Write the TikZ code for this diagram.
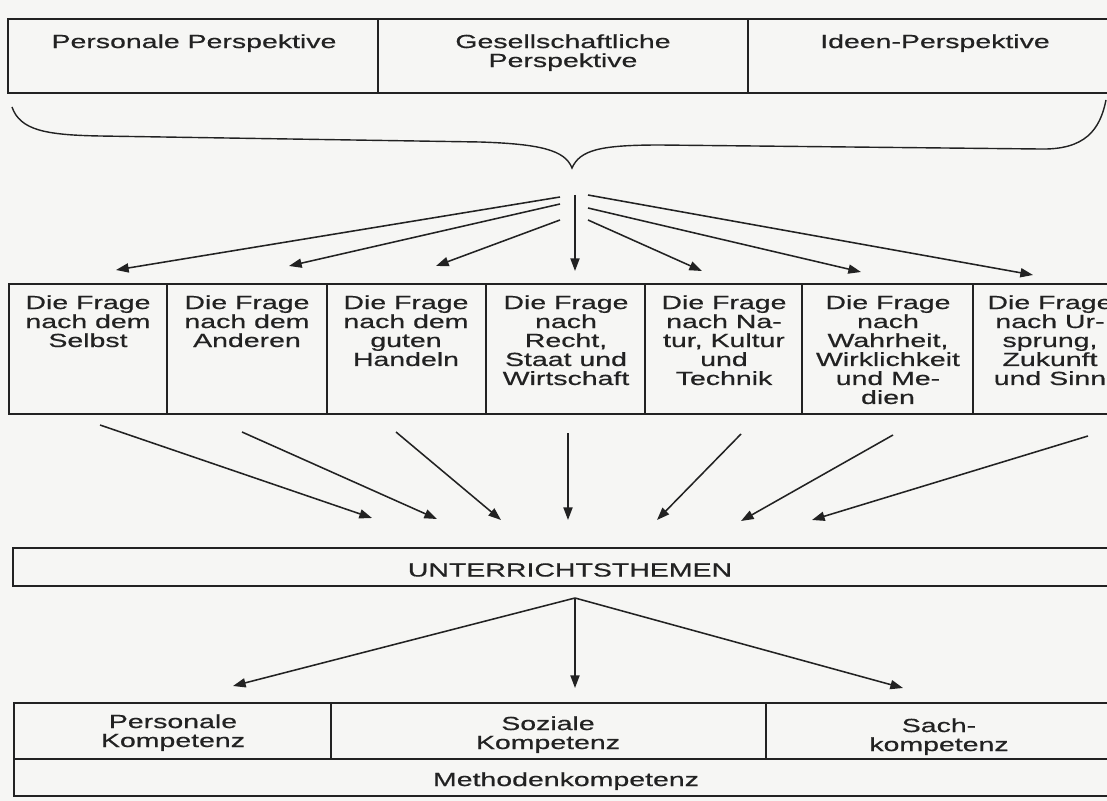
\documentclass[tikz,border=0pt]{standalone}
\usepackage{fontspec}
\setmainfont{Liberation Sans}
\newfontfamily\breit[FakeStretch=1.5,FakeBold=0.6]{Liberation Sans}
\usetikzlibrary{arrows.meta}
\definecolor{tinte}{HTML}{222222}
\definecolor{papier}{HTML}{F6F6F4}
\tikzset{
  rahmen/.style={draw=tinte, line width=1pt},
  pfeil/.style={draw=tinte, line width=1.1pt, -{Triangle[length=9pt,width=6.5pt]}},
  txt/.style={align=center, inner sep=0pt, anchor=north, text=tinte,
    font=\breit\fontsize{13.5}{13.5}\selectfont},
}
\begin{document}
\begin{tikzpicture}[x=0.025cm,y=-0.025cm]
\useasboundingbox (0,0) rectangle (1107,801);
\fill[papier] (0,0) rectangle (1107,801);
\clip (0,0) rectangle (1107,801);
% Perspektiven
\draw[rahmen] (8,19) rectangle (1115,93); \draw[rahmen] (378,19)--(378,93); \draw[rahmen] (748,19)--(748,93);
\node[txt] (pers) at (194,34) {Personale Perspektive};
\node[txt] (ges) at (563,34) {Gesellschaftliche\\Perspektive};
\node[txt] (ideen) at (935,34) {Ideen-Perspektive};
% Klammer
\draw[rahmen] (12,107) .. controls (20,130) and (45,135) .. (100,136) -- (480,142)
  .. controls (540,144) and (565,150) .. (572,168) .. controls (580,150) and (600,145) .. (660,145)
  -- (1040,149) .. controls (1085,150) and (1100,130) .. (1106,100);
% Fragen
\draw[rahmen] (9,284) rectangle (1130,414);
\foreach \xd in {167,327,486,645,802,973} \draw[rahmen] (\xd,284)--(\xd,414);
\node[txt] (f1) at (88,295) {Die Frage\\nach dem\\Selbst};
\node[txt] (f2) at (247,295) {Die Frage\\nach dem\\Anderen};
\node[txt] (f3) at (406,295) {Die Frage\\nach dem\\guten\\Handeln};
\node[txt] (f4) at (566,295) {Die Frage\\nach\\Recht,\\Staat und\\Wirtschaft};
\node[txt] (f5) at (724,295) {Die Frage\\nach Na-\\tur, Kultur\\und\\Technik};
\node[txt] (f6) at (888,295) {Die Frage\\nach\\Wahrheit,\\Wirklichkeit\\und Me-\\dien};
\node[txt] (f7) at (1050,295) {Die Frage\\nach Ur-\\sprung,\\Zukunft\\und Sinn};
\foreach \n/\sx/\sy/\ex/\ey in {1/560/197/116/270, 2/560/204/289/266, 3/560/220/436/266, 4/575/195/575/271,
    5/588/220/702/271, 6/588/208/861/272, 7/588/195/1033/275} {
  \coordinate (oa\n) at (\sx,\sy); \coordinate (oe\n) at (\ex,\ey);
  \draw[pfeil] (oa\n) -- (oe\n);
}
\foreach \n/\sx/\sy/\ex/\ey in {1/100/425/372/518, 2/242/432/437/519, 3/396/432/501/520, 4/568/433/568/520,
    5/741/434/657/520, 6/893/435/741/521, 7/1088/436/812/520} {
  \coordinate (ua\n) at (\sx,\sy); \coordinate (ue\n) at (\ex,\ey);
  \draw[pfeil] (ua\n) -- (ue\n);
}
% Themen
\draw[rahmen] (13,548) rectangle (1130,586);
\node[txt] (themen) at (570,563) {UNTERRICHTSTHEMEN};
\coordinate (spitze) at (575,598);
\coordinate (k1) at (233,686); \coordinate (k2) at (575,688); \coordinate (k3) at (903,688);
\draw[pfeil] (spitze) -- (k1); \draw[pfeil] (spitze) -- (k2); \draw[pfeil] (spitze) -- (k3);
% Kompetenzen
\draw[rahmen] (14,703) rectangle (1130,796); \draw[rahmen] (14,759)--(1130,759);
\draw[rahmen] (331,703)--(331,759); \draw[rahmen] (766,703)--(766,759);
\node[txt] (pk) at (173,714) {Personale\\Kompetenz};
\node[txt] (sk) at (548,716) {Soziale\\Kompetenz};
\node[txt] (sak) at (939,718) {Sach-\\kompetenz};
\node[txt] (mk) at (566,772) {Methodenkompetenz};
\end{tikzpicture}
\end{document}
